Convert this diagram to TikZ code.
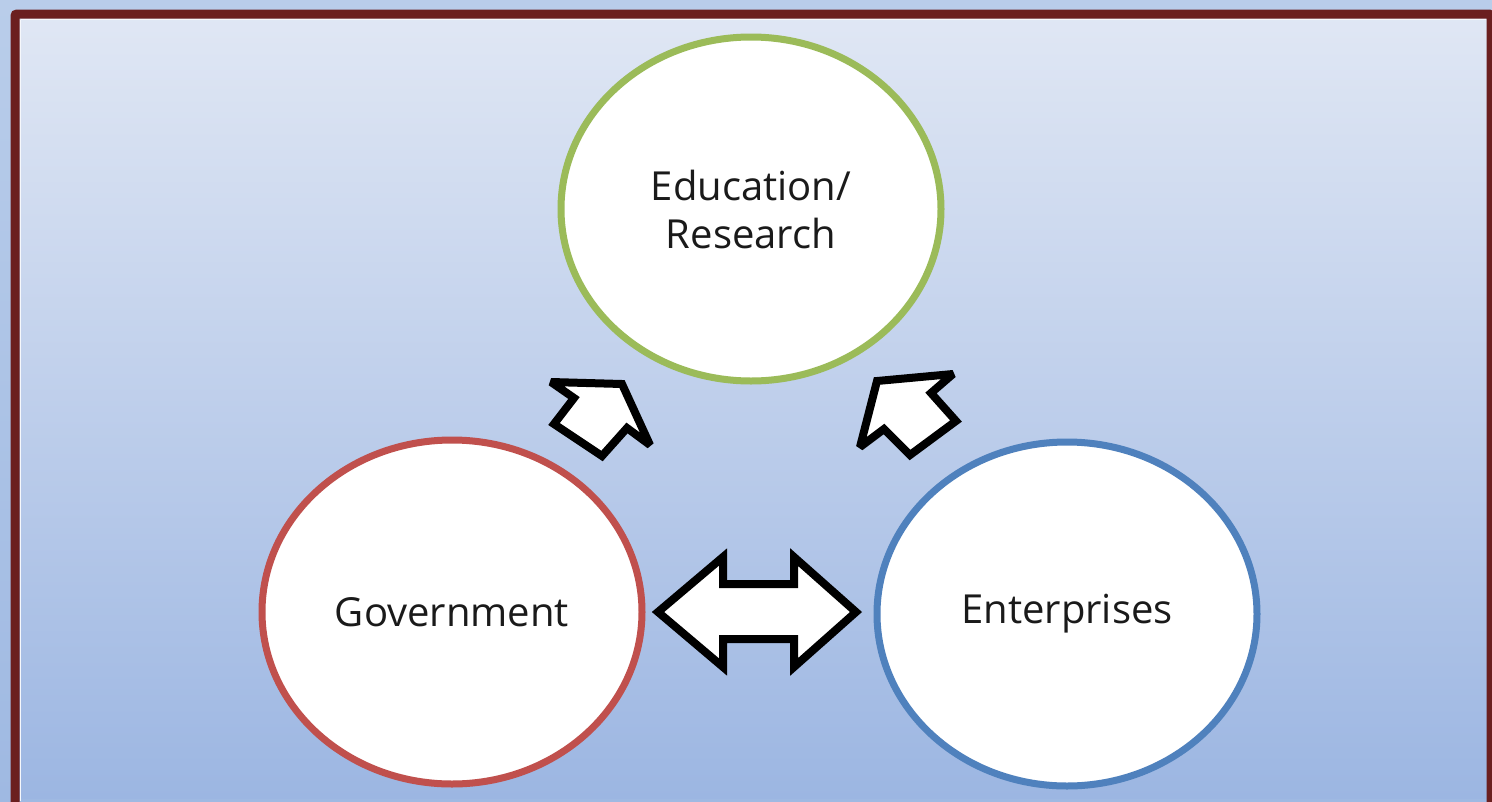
\documentclass[tikz,border=0pt]{standalone}
\usepackage{fontspec}
\setmainfont{Open Sans}
\usetikzlibrary{shapes.geometric}
\definecolor{outerbg1}{HTML}{B9CDEA}
\definecolor{outerbg2}{HTML}{9FB9E2}
\definecolor{innertop}{HTML}{E0E7F4}
\definecolor{innerbot}{HTML}{9CB6E2}
\definecolor{framered}{HTML}{6B1F1F}
\definecolor{edugreen}{HTML}{9BBB59}
\definecolor{govred}{HTML}{C0504D}
\definecolor{entblue}{HTML}{4F81BD}
\definecolor{txt}{HTML}{1A1A1A}
\tikzset{
  circ/.style={ellipse, draw, line width=7pt, fill=white, minimum width=380pt, minimum height=344pt, inner sep=0pt, text=txt, align=center, font=\fontsize{40}{48}\selectfont},
  blockarrow/.style={draw=black, fill=white, line width=8pt, line join=miter, miter limit=3}
}
\begin{document}
\begin{tikzpicture}[x=1pt,y=-1pt]
\useasboundingbox (0,0) rectangle (1492,801);
\clip (0,0) rectangle (1492,801);
\fill[top color=outerbg1, bottom color=outerbg2] (0,0) rectangle (1492,801);
\fill[top color=innertop, bottom color=innerbot] (15,14) rectangle (1490,798);
\draw[framered, line width=9pt, rounded corners=2pt] (15,14) -- (1491,14) -- (1491,830) -- (15,830) -- cycle;
\draw[white!70!innertop, line width=1.2pt] (20.5,19.5) -- (1486,19.5);
\draw[white!70!innertop, line width=1.2pt] (20.5,19.5) -- (20.5,801);

\node[circ, draw=edugreen] (edu) at (751,209) {Education/\\Research};
\node[circ, draw=govred] (gov) at (452,612) {Government};
\node[circ, draw=entblue] (ent) at (1067,614) {Enterprises};

% up-right arrow from Government toward Education
\draw[blockarrow] (622,384) -- (650,445) -- (627,428) -- (602,456) -- (554,424) -- (574,398) -- (551,382) -- cycle;
% up-left arrow from Enterprises toward Education
\draw[blockarrow] (877,381) -- (953,374) -- (931,393) -- (956,421) -- (910,455) -- (884,429) -- (860,447) -- cycle;
% double arrow between Government and Enterprises
\draw[blockarrow] (658,612) -- (723,557) -- (723,584) -- (794,584) -- (794,557) -- (856,612) -- (794,667) -- (794,639) -- (723,639) -- (723,667) -- cycle;
\end{tikzpicture}
\end{document}
